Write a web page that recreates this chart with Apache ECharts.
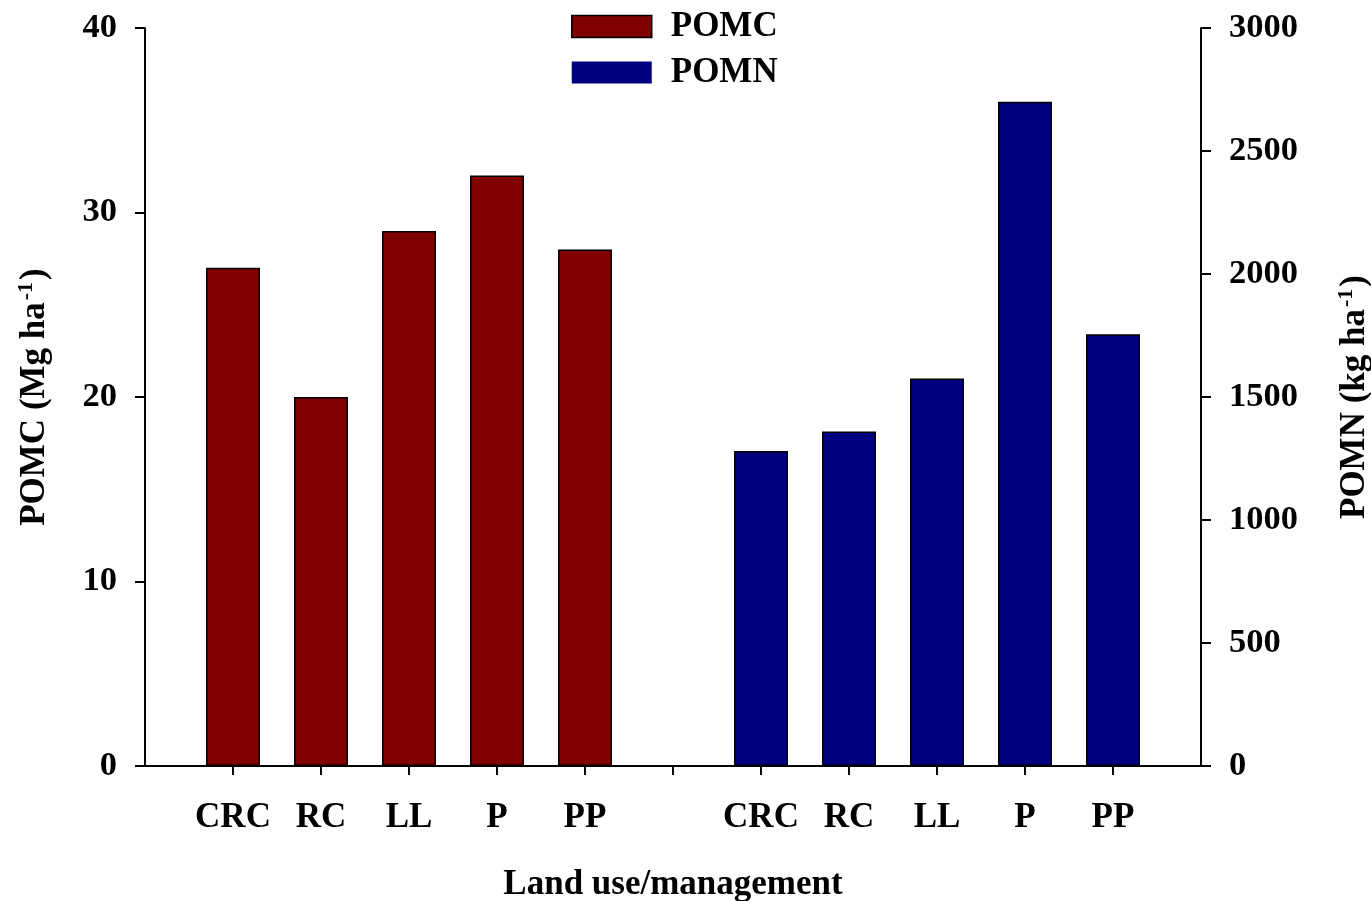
<!DOCTYPE html>
<html>
<head>
<meta charset="utf-8">
<script src="https://cdn.jsdelivr.net/npm/echarts@6/dist/echarts.min.js"></script>
<style>html,body{margin:0;padding:0;background:#fff}#c{width:1371px;height:901px}</style>
</head>
<body>
<div id="c"></div>
<script>
var categories = ['CRC', 'RC', 'LL', 'P', 'PP'];
var pomcValues = [27, 20, 29, 32, 28];
var pomnValues = [1280, 1360, 1575, 2700, 1755];
var leftTicks = [0, 10, 20, 30, 40];
var rightTicks = [0, 500, 1000, 1500, 2000, 2500, 3000];

var FONT = "'Liberation Serif', 'Times New Roman', serif";
var n = categories.length;
var xLabels = {};
categories.forEach(function (c, i) { xLabels[i + 1] = c; xLabels[i + n + 2] = c; });
var labelPos = Object.keys(xLabels).map(Number);
var tickPos = [];
for (var k = 1; k <= 2 * n + 1; k++) tickPos.push(k);

var chart = echarts.init(document.getElementById('c'));
var txt = { fontFamily: FONT, fontWeight: 'bold', color: '#000' };
chart.setOption({
  animation: false,
  backgroundColor: '#fff',
  grid: { left: 145, right: 170, top: 28, bottom: 135, outerBoundsMode: 'none', containLabel: false },
  legend: {
    orient: 'vertical', left: 566, top: 4,
    icon: 'rect',
    itemWidth: 80, itemHeight: 22, itemGap: 11,
    textStyle: Object.assign({ fontSize: 35, lineHeight: 34, padding: [0, 0, 0, 14] }, txt),
    data: [
      { name: 'POMC', itemStyle: { borderColor: '#000', borderWidth: 1.5 } },
      { name: 'POMN', itemStyle: { borderWidth: 0 } }
    ]
  },
  xAxis: {
    type: 'value', min: 0, max: 2 * n + 2, interval: 1,
    name: 'Land use/management', nameLocation: 'middle', nameGap: 101,
    nameTextStyle: Object.assign({ fontSize: 35 }, txt),
    axisLine: { show: true, lineStyle: { color: '#000', width: 2 } },
    axisTick: { show: true, length: 9, lineStyle: { color: '#000', width: 2 }, customValues: tickPos },
    axisLabel: Object.assign({ fontSize: 35, margin: 34, customValues: labelPos,
      formatter: function (v) { return xLabels[v] || ''; } }, txt),
    splitLine: { show: false }
  },
  yAxis: [
    {
      type: 'value', min: 0, max: 40, interval: 10, position: 'left',
      name: '{a|POMC (Mg ha}{s|-1}{a|)}', nameLocation: 'middle', nameGap: 90, nameRotate: 90,
      nameTextStyle: { rich: {
        a: Object.assign({ fontSize: 35 }, txt),
        s: Object.assign({ fontSize: 22, padding: [0, 2, 18, 2] }, txt)
      } },
      axisLine: { show: true, lineStyle: { color: '#000', width: 2 } },
      axisTick: { show: true, length: 10, lineStyle: { color: '#000', width: 2 } },
      axisLabel: Object.assign({ fontSize: 34.5, margin: 28, customValues: leftTicks,
        formatter: function (v) { return String(v); } }, txt),
      splitLine: { show: false }
    },
    {
      type: 'value', min: 0, max: 3000, interval: 500, position: 'right',
      name: '{a|POMN (kg ha}{s|-1}{a|)}', nameLocation: 'middle', nameGap: 134, nameRotate: 90,
      nameTextStyle: { rich: {
        a: Object.assign({ fontSize: 35 }, txt),
        s: Object.assign({ fontSize: 22, padding: [0, 2, 18, 2] }, txt)
      } },
      axisLine: { show: true, lineStyle: { color: '#000', width: 2 } },
      axisTick: { show: true, length: 10, lineStyle: { color: '#000', width: 2 } },
      axisLabel: Object.assign({ fontSize: 34.5, margin: 28, customValues: rightTicks,
        formatter: function (v) { return String(v); } }, txt),
      splitLine: { show: false }
    }
  ],
  series: [
    {
      name: 'POMC', type: 'bar', yAxisIndex: 0, barWidth: 54,
      itemStyle: { color: '#800000', borderColor: '#000', borderWidth: 1.5 },
      data: pomcValues.map(function (v, i) { return [i + 1, v]; })
    },
    {
      name: 'POMN', type: 'bar', yAxisIndex: 1, barWidth: 54, barGap: '-100%',
      itemStyle: { color: '#000080', borderColor: '#000', borderWidth: 1.5 },
      data: pomnValues.map(function (v, i) { return [i + n + 2, v]; })
    }
  ]
});
</script>
</body>
</html>
